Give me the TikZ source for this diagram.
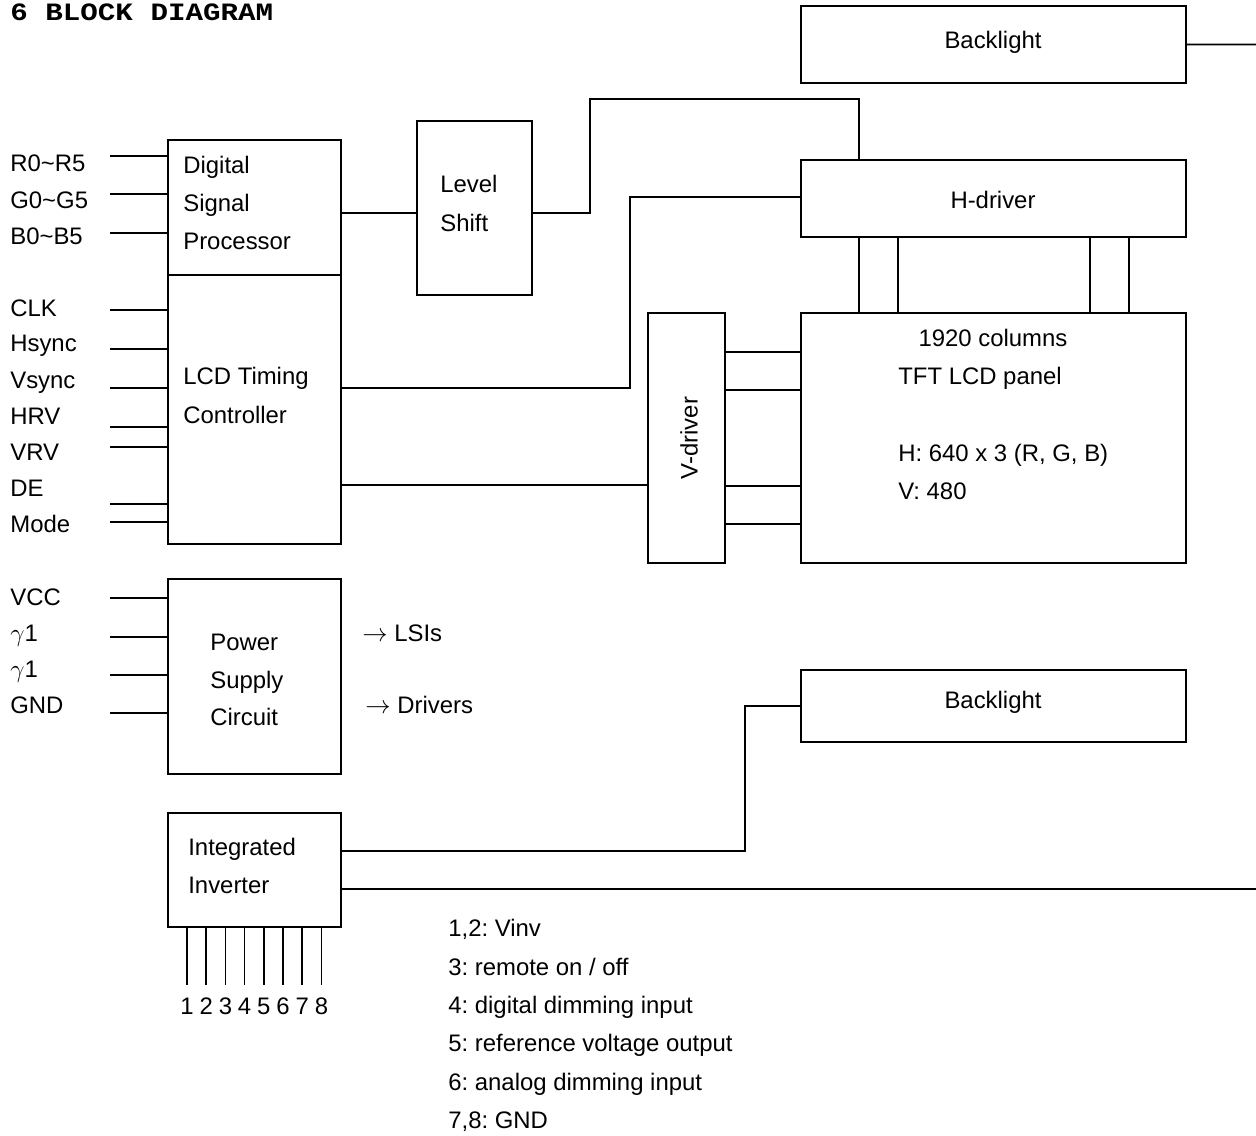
\documentclass[tikz,border=0pt]{standalone}
\usepackage{fontspec}
\setmainfont{Liberation Sans}
\newfontfamily\headfont{Liberation Mono}
\usepackage{tikz}
\usetikzlibrary{positioning, fit, calc}
\frenchspacing
\tikzset{
    blk/.style={rectangle, draw, line width=1.1pt, inner sep=0pt},
    wire/.style={draw, line width=1.1pt},
    bus/.style={draw, line width=0.8pt},
    pinline/.style={draw, line width=1pt},
    lbl/.style={font=\fontsize{13.6}{16}\selectfont, inner sep=0pt, anchor=base west, yshift=-0.17cm},
    clbl/.style={lbl, anchor=base}
}

\begin{document}
\begin{tikzpicture}[x=0.02cm, y=-0.02cm]
    \useasboundingbox (0,0) rectangle (1256,1135);

    % Macro for a box spanned by two corners
    \def\pbox#1#2#3{\node[blk, fit={#2 #3}] (#1) {};}

    \node[anchor=base west, inner sep=0pt, xscale=1.17, font=\headfont\bfseries\fontsize{14.2}{16}\selectfont] (title) at (10,21) {6 BLOCK DIAGRAM};

    % Blocks
    \pbox{dsp}{(168,140)}{(341,275)}
    \pbox{lcd}{(168,275)}{(341,544)}
    \pbox{psc}{(168,579)}{(341,774)}
    \pbox{inv}{(168,813)}{(341,927)}
    \pbox{lvl}{(417,121)}{(532,295)}
    \pbox{blt}{(801,6)}{(1186,83)}
    \pbox{hdr}{(801,160)}{(1186,237)}
    \pbox{vdr}{(648,313)}{(725,563)}
    \pbox{pnl}{(801,313)}{(1186,563)}
    \pbox{blb}{(801,670)}{(1186,742)}

    % Texts inside the blocks
    \node[lbl] (dspa) at (183,165) {Digital};
    \node[lbl] (dspb) at (183,203) {Signal};
    \node[lbl] (dspc) at (183,241) {Processor};
    \node[lbl] (lcda) at (183,376) {LCD Timing};
    \node[lbl] (lcdb) at (183,415) {Controller};
    \node[lbl] (lvla) at (440,184) {Level};
    \node[lbl] (lvlb) at (440,223) {Shift};
    \node[lbl] (psca) at (210,642) {Power};
    \node[lbl] (pscb) at (210,680) {Supply};
    \node[lbl] (pscc) at (210,717) {Circuit};
    \node[lbl] (inva) at (188,847) {Integrated};
    \node[lbl] (invb) at (188,885) {Inverter};
    \node[clbl] (blttxt) at (993,40) {Backlight};
    \node[clbl] (hdrtxt) at (993,200) {H-driver};
    \node[clbl] (blbtxt) at (993,700) {Backlight};
    \node[font=\fontsize{13.6}{16}\selectfont, inner sep=0pt, rotate=90] (vdrtxt) at (689,438) {V-driver};
    \node[clbl] (pnla) at (993,338) {1920 columns};
    \node[lbl] (pnlb) at (898,376) {TFT LCD panel};
    \node[lbl] (pnlc) at (898,453) {H: 640 x 3 (R, G, B)};
    \node[lbl] (pnld) at (898,491) {V: 480};
    \node[lbl] (lsi) at (362,633) {$\rightarrow$ LSIs};
    \node[lbl] (drv) at (365,705) {$\rightarrow$ Drivers};

    % Input signals
    \foreach \t/\ty/\ly [count=\i] in {R0\textasciitilde R5/163/156, G0\textasciitilde G5/200/194, B0\textasciitilde B5/236/233} {
        \node[lbl] (dl\i) at (10,\ty) {\t};
        \coordinate (di\i) at (110,\ly);
        \draw[wire] (di\i) -- (dsp.west |- di\i);
    }
    \foreach \t/\ty/\ly [count=\i] in {CLK/308/310, Hsync/343/349, Vsync/380/388, HRV/416/427, VRV/452/447, DE/488/504, Mode/524/522} {
        \node[lbl] (tl\i) at (10,\ty) {\t};
        \coordinate (ti\i) at (110,\ly);
        \draw[wire] (ti\i) -- (lcd.west |- ti\i);
    }
    \foreach \t/\ty/\ly [count=\i] in {VCC/597/598, $\gamma$1/633/637, $\gamma$1/669/675, GND/705/713} {
        \node[lbl] (pl\i) at (10,\ty) {\t};
        \coordinate (pi\i) at (110,\ly);
        \draw[wire] (pi\i) -- (psc.west |- pi\i);
    }

    % Connections between blocks
    \draw[wire] (dsp.east |- 0,213) -- (lvl.west |- 0,213);
    \draw[wire] (lvl.east |- 0,213) -| (590,99) -| (hdr.north -| 859,0);
    \draw[wire] (lcd.east |- 0,388) -| (630,197) -- (hdr.west |- 0,197);
    \draw[wire] (lcd.east |- 0,485) -- (vdr.west |- 0,485);
    \foreach \y in {352,390,486,524}
        \draw[wire] (vdr.east |- 0,\y) -- (pnl.west |- 0,\y);
    \foreach \x in {859,898,1090,1129}
        \draw[bus] (hdr.south -| \x,0) -- (pnl.north -| \x,0);
    \coordinate (bltout) at (1256,44.5);
    \draw[wire] (blt.east) -- (bltout);
    \draw[wire] (inv.east |- 0,851) -| (blb.west -| 745,0) -- (blb.west);
    \coordinate (invout) at (1256,889);
    \draw[wire] (inv.east |- 0,889) -- (invout);

    % Inverter pins
    \foreach \i in {1,...,8} {
        \coordinate (pin\i) at ({187+(\i-1)*19.2},985);
        \draw[pinline] (inv.south -| pin\i) -- (pin\i);
        \node[clbl] (pn\i) at ({187+(\i-1)*19.2},1006) {\i};
    }

    % Pin legend
    \foreach \t/\y [count=\i] in {{1,2: Vinv}/928, {3: remote on / off}/967, {4: digital dimming input}/1005, {5: reference voltage output}/1043, {6: analog dimming input}/1082, {7,8: GND}/1120}
        \node[lbl] (leg\i) at (448,\y) {\t};
\end{tikzpicture}
\end{document}
